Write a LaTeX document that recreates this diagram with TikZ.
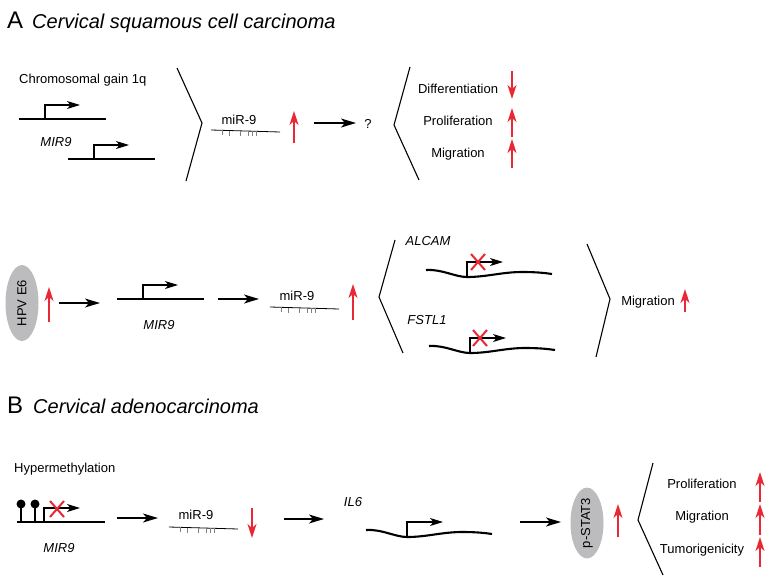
\documentclass[tikz,border=0pt]{standalone}
\usepackage{fontspec}
\setmainfont{Liberation Sans}
\usetikzlibrary{arrows.meta,shapes.geometric}
\definecolor{upred}{RGB}{232,40,52}
\definecolor{ovalgray}{RGB}{188,188,190}
\tikzset{
  txt/.style={font=\fontsize{13}{15}\selectfont, inner sep=0pt, anchor=base},
  gtxt/.style={font=\fontsize{13}{15}\selectfont\itshape, inner sep=0pt, anchor=base},
  gene/.style={line width=1.5pt},
  wavy/.style={line width=2.1pt},
  prom/.style={line width=1.1pt, -{Stealth[length=13pt,width=8pt,inset=3.5pt]}},
  flow/.style={line width=1.3pt, -{Stealth[length=15pt,width=9pt,inset=4pt]}},
  redar/.style={upred, line width=1.4pt, -{Stealth[length=14pt,width=9pt,inset=4pt]}},
  brk/.style={line width=1.1pt},
  xmark/.style={upred, line width=2pt},
  oval/.style={ellipse, fill=ovalgray, inner sep=0pt, font=\fontsize{13}{15}\selectfont},
  mirline/.style={line width=0.8pt},
  mtick/.style={gray, line width=0.6pt},
  mirna/.pic={
    \draw[mirline] (0,0) -- (69,2);
    \foreach \t in {11,18,29,37,41,45} \draw[mtick] (\t,{\t*2/69}) -- ++(0,5);
  },
  genepro/.pic={
    \draw[gene] (0,0) -- (87,0);
    \draw[prom] (26,0) -- (26,-14) -- (61,-14);
  },
  wavegene/.pic={
    \draw[wavy] (-41,-7) .. controls (-25,-8) and (-12,0) .. (0,0)
      .. controls (20,0) and (35,-5) .. (55,-5)
      .. controls (70,-5) and (78,-4) .. (85,-3);
    \draw[prom] (0,0) -- (0,-15) -- (36,-15);
  },
  xmk/.pic={\draw[xmark] (-7,-8) -- (7,8) (-7,8) -- (7,-8);}
}
\begin{document}
\begin{tikzpicture}[x=1pt,y=-1pt]
\useasboundingbox (0,0) rectangle (774,584);

% ---------- Section A ----------
\node[anchor=base west, inner sep=0pt, font=\fontsize{24}{28}\selectfont] (labA) at (7,28) {A};
\node[anchor=base west, inner sep=0pt, font=\fontsize{20}{24}\selectfont\itshape] (titA) at (32,28) {Cervical squamous cell carcinoma};

% row 1
\node[txt, anchor=base west] (chrom) at (19,83) {Chromosomal gain 1q};
\pic at (19,119) {genepro};
\pic at (68,159) {genepro};
\node[gtxt] (mir9a) at (56,146) {MIR9};
\draw[brk] (177,68) -- (202,123) -- (186,181);
\node[txt] (mirtxt1) at (239,124) {miR-9};
\pic at (211,130) {mirna};
\draw[redar] (294,143) -- (294,111);
\coordinate (f1s) at (314,123);
\node[txt] (q) at (368,128) {?};
\coordinate (f1e) at (356,123);
\draw[flow] (f1s) -- (f1e);
\draw[brk] (410,67) -- (394,125) -- (419,180);
\node[txt] (diff) at (458,93) {Differentiation};
\node[txt] (prol1) at (458,125) {Proliferation};
\node[txt] (migr1) at (458,157) {Migration};
\draw[redar] (512,71) -- (512,99);
\draw[redar] (512,137) -- (512,108);
\draw[redar] (512,168) -- (512,139);

% row 2
\node[oval, minimum width=76pt, minimum height=33pt, rotate=90] (hpv) at (22,303) {HPV E6};
\draw[redar] (49,322) -- (49,287);
\coordinate (f2s) at (59,303);
\coordinate (f2e) at (100,303);
\draw[flow] (f2s) -- (f2e);
\pic at (117,299) {genepro};
\node[gtxt] (mir9b) at (159,329) {MIR9};
\coordinate (f3s) at (218,299);
\coordinate (f3e) at (259,299);
\draw[flow] (f3s) -- (f3e);
\node[txt] (mirtxt2) at (297,300) {miR-9};
\pic at (270,307) {mirna};
\draw[redar] (353,320) -- (353,284);
\draw[brk] (395,240) -- (379,297) -- (403,353);
\node[gtxt] (alcam) at (428,245) {ALCAM};
\pic at (467,277) {wavegene};
\pic at (478,262) {xmk};
\node[gtxt] (fstl) at (427,324) {FSTL1};
\pic at (470,353) {wavegene};
\pic at (480,338) {xmk};
\draw[brk] (587,244) -- (610,299) -- (596,357);
\node[txt] (migr2) at (648,305) {Migration};
\draw[redar] (685,312) -- (685,289);

% ---------- Section B ----------
\node[anchor=base west, inner sep=0pt, font=\fontsize{24}{28}\selectfont] (labB) at (7,413) {B};
\node[anchor=base west, inner sep=0pt, font=\fontsize{20}{24}\selectfont\itshape] (titB) at (33,413) {Cervical adenocarcinoma};

\node[txt, anchor=base west] (hyper) at (14,472) {Hypermethylation};
\draw[gene] (17,522) -- (105,522);
\draw[gene] (21,522) -- (21,505);
\draw[gene] (35,522) -- (35,505);
\fill (21,504) circle (4.5);
\fill (35,504) circle (4.5);
\draw[prom] (44,522) -- (44,508) -- (80,508);
\pic at (57,509) {xmk};
\node[gtxt] (mir9c) at (59,552) {MIR9};
\coordinate (f4s) at (117,518);
\coordinate (f4e) at (158,518);
\draw[flow] (f4s) -- (f4e);
\node[txt] (mirtxt3) at (196,519) {miR-9};
\pic at (169,527) {mirna};
\draw[redar] (252,508) -- (252,538);
\coordinate (f5s) at (284,519);
\coordinate (f5e) at (324,519);
\draw[flow] (f5s) -- (f5e);
\node[gtxt] (il6) at (353,506) {IL6};
\pic at (407,537) {wavegene};
\coordinate (f6s) at (520,522);
\coordinate (f6e) at (561,522);
\draw[flow] (f6s) -- (f6e);
\node[oval, minimum width=70pt, minimum height=33pt, rotate=90] (stat) at (587,523) {p-STAT3};
\draw[redar] (618,537) -- (618,504);
\draw[brk] (653,463) -- (638,520) -- (663,575);
\node[txt] (prol2) at (702,488) {Proliferation};
\node[txt] (migr3) at (702,520) {Migration};
\node[txt] (tumor) at (702,553) {Tumorigenicity};
\draw[redar] (760,502) -- (760,472);
\draw[redar] (760,535) -- (760,504);
\draw[redar] (760,567) -- (760,537);
\end{tikzpicture}
\end{document}
